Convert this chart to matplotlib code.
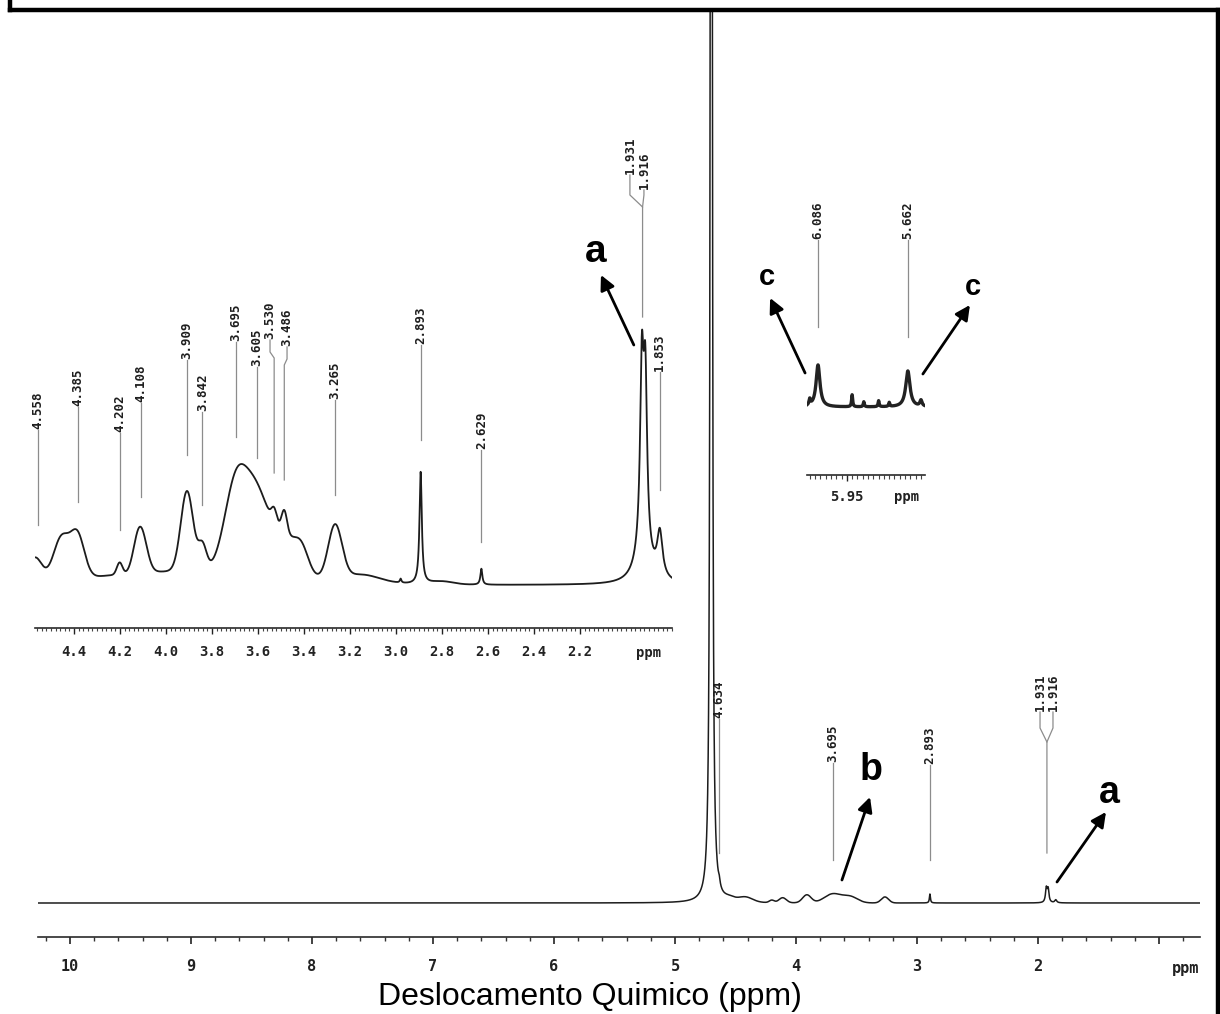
import numpy as np
import matplotlib
matplotlib.use("Agg")
import matplotlib.pyplot as plt
from matplotlib.lines import Line2D
from matplotlib.ticker import MultipleLocator

# ---------------- values ----------------
# full spectrum: sharp lines (ppm, height, half width) + broad humps (ppm, height, sigma)
full_sharp_ppm = [4.700, 4.634, 2.893, 1.931, 1.916, 1.853]
full_sharp_h = [4000, 5, 9, 14, 13, 3]
full_sharp_w = [0.005, 0.008, 0.005, 0.008, 0.008, 0.010]
full_broad_ppm = [4.55, 4.42, 4.20, 4.11, 3.91, 3.695, 3.55, 3.265]
full_broad_h = [3, 5, 2.5, 5, 8, 9, 6, 6]
full_broad_s = [0.04, 0.06, 0.02, 0.03, 0.035, 0.07, 0.06, 0.03]
full_ticks = [10, 9, 8, 7, 6, 5, 4, 3, 2]
full_peak_labels = ["4.634", "3.695", "2.893"]

# expansion 4.6 - 1.8 ppm
exp_sharp_ppm = [2.980, 2.893, 2.629, 1.931, 1.916, 1.925, 1.853]
exp_sharp_h = [4, 112, 16, 175, 160, 35, 45]
exp_sharp_w = [0.004, 0.006, 0.005, 0.009, 0.009, 0.035, 0.014]
exp_broad_ppm = [4.57, 4.455, 4.385, 4.202, 4.13, 4.108, 3.909, 3.842, 3.695,
                 3.605, 3.53, 3.49, 3.486, 3.41, 3.265, 3.15, 2.80, 3.90]
exp_broad_h = [24, 42, 42, 12, 10, 40, 80, 25, 90, 68, 14, 40, 22, 20, 54, 8, 3, 14]
exp_broad_s = [0.03, 0.035, 0.03, 0.012, 0.02, 0.025, 0.027, 0.018, 0.05,
               0.05, 0.012, 0.06, 0.012, 0.03, 0.03, 0.08, 0.05, 0.40]
exp_ticks = [4.4, 4.2, 4.0, 3.8, 3.6, 3.4, 3.2, 3.0, 2.8, 2.6, 2.4, 2.2]
exp_peak_labels = ["4.558", "4.385", "4.202", "4.108", "3.909", "3.842", "3.695",
                   "3.605", "3.530", "3.486", "3.265", "2.893", "2.629", "1.853"]
exp_fork_labels = ["1.931", "1.916"]

# small window around 6 ppm
c_sharp_ppm = [6.086, 5.662, 6.125, 5.925, 5.870, 5.800, 5.750, 5.600]
c_sharp_h = [42, 36, 6, 12, 5, 6, 4, 6]
c_sharp_w = [0.011, 0.012, 0.004, 0.003, 0.003, 0.003, 0.003, 0.006]
c_ticks = [5.95]
c_peak_labels = ["6.086", "5.662"]

W, H = 1220, 1014
fig = plt.figure(figsize=(W / 100, H / 100), dpi=100)
LINE = "#8c8c8c"


def box(x0, y0, x1, y1):
    # axes placed in picture pixels, only the bottom ruler kept
    ax = fig.add_axes([x0 / W, 1 - y1 / H, (x1 - x0) / W, (y1 - y0) / H])
    ax.patch.set_visible(False)
    for s in ["left", "right", "top"]:
        ax.spines[s].set_visible(False)
    ax.spines["bottom"].set_color("#2a2a2a")
    ax.spines["bottom"].set_linewidth(1.2)
    ax.set_yticks([])
    return ax


def lorentz(x, pos, h, w):
    pos, h, w = (np.asarray(v, float)[:, None] for v in (pos, h, w))
    return (h * w ** 2 / ((x - pos) ** 2 + w ** 2)).sum(0)


def gauss(x, pos, h, s):
    pos, h, s = (np.asarray(v, float)[:, None] for v in (pos, h, s))
    return (h * np.exp(-0.5 * ((x - pos) / s) ** 2)).sum(0)


def ruler_labels(ax):
    for lb in ax.get_xticklabels():
        lb.set_fontfamily("DejaVu Sans Mono")
        lb.set_fontweight("bold")


def tag(ax, x, y, txt, size=9):
    ax.text(x, y + 1, txt, rotation=90, ha="center", va="bottom", fontsize=size,
            fontfamily="DejaVu Sans Mono", fontweight="bold", color="#1e1e1e")


def peak_label(ax, ppm, txt, top, bottom, shift=0.0):
    # label may sit a little off the line, joined by a short jog
    if shift:
        xt = ppm + shift
        ax.plot([xt, xt, ppm, ppm], [top, top - 12, top - 18, bottom], color=LINE, lw=0.9)
    else:
        xt = ppm
        ax.plot([ppm, ppm], [bottom, top], color=LINE, lw=0.9)
    tag(ax, xt, top, txt)


def fork_label(ax, xl, xr, xs, txts, tops, knee, join, bottom):
    ax.plot([xl, xl, xs, xs], [tops[0], knee, join, bottom], color=LINE, lw=0.9)
    ax.plot([xr, xr, xs], [tops[1], knee, join], color=LINE, lw=0.9)
    for xx, t, tp in zip([xl, xr], txts, tops):
        tag(ax, xx, tp, t)


def letter(ax, x, y, s, size=27):
    ax.text(x, y, s, fontsize=size, fontweight="bold", fontfamily="Liberation Sans",
            ha="center", va="center", color="k")


def arrow(ax, tail, head):
    ax.annotate("", xy=head, xytext=tail, annotation_clip=False,
                arrowprops=dict(arrowstyle="-|>", color="k", lw=2.0,
                                mutation_scale=22, shrinkA=0, shrinkB=0))


# ---------------- full spectrum ----------------
ax = box(38, 10, 1200, 937)
x = np.linspace(10.264, 0.661, 9000)
y = lorentz(x, full_sharp_ppm, full_sharp_h, full_sharp_w) + \
    gauss(x, full_broad_ppm, full_broad_h, full_broad_s)
ax.plot(x, y, color="#1c1c1c", lw=1.1)
ax.set_xlim(10.264, 0.661)
ax.set_ylim(-34, 893)
ax.set_xticks(full_ticks + [1])
ax.set_xticklabels([str(t) for t in full_ticks] + [""])
ax.xaxis.set_minor_locator(MultipleLocator(0.2))
ax.tick_params(which="major", direction="out", length=5, width=1.2, pad=11,
               labelsize=11, colors="#222222")
ax.tick_params(which="minor", direction="out", length=3, width=1.0, colors="#333333")
ruler_labels(ax)
ax.text(0.78, -66, "ppm", ha="center", va="center", fontsize=11,
        fontfamily="DejaVu Sans Mono", fontweight="bold", color="#222222")

for lbl, top, bot in zip(full_peak_labels, [184, 140, 138], [50, 43, 43]):
    peak_label(ax, float(lbl), lbl, top, bot)
fork_label(ax, 1.983, 1.876, 1.926, ["1.931", "1.916"], [191, 191], 175, 161, 50)

letter(ax, 3.380, 133, "b")
arrow(ax, (3.620, 23), (3.388, 106))
letter(ax, 1.413, 110, "a")
arrow(ax, (1.843, 21), (1.438, 91))

# ---------------- expansion 4.6 - 1.8 ppm ----------------
ax2 = box(35, 100, 672, 628)
x2 = np.linspace(4.57, 1.80, 7000)
y2 = lorentz(x2, exp_sharp_ppm, exp_sharp_h, exp_sharp_w) + \
    gauss(x2, exp_broad_ppm, exp_broad_h, exp_broad_s)
ax2.plot(x2, y2, color="#1c1c1c", lw=1.3)
ax2.set_xlim(4.57, 1.80)
ax2.set_ylim(-43, 485)
ax2.set_xticks(exp_ticks)
ax2.set_xticklabels(["%.1f" % t for t in exp_ticks])
ax2.xaxis.set_minor_locator(MultipleLocator(0.02))
ax2.tick_params(which="major", direction="out", length=4, width=1.0, pad=8,
                labelsize=10, colors="#222222")
ax2.tick_params(which="minor", direction="out", length=2.5, width=0.8, colors="#444444")
ruler_labels(ax2)
ax2.text(1.90, -68, "ppm", ha="center", va="center", fontsize=10,
         fontfamily="DejaVu Sans Mono", fontweight="bold", color="#222222")

exp_tops = [155, 178, 152, 182, 225, 173, 243, 218, 245, 238, 185, 240, 135, 213]
exp_bots = [60, 83, 55, 88, 130, 80, 148, 127, 112, 105, 90, 145, 43, 95]
exp_shift = [0, 0, 0, 0, 0, 0, 0, 0, 0.018, -0.012, 0, 0, 0, 0]
for lbl, top, bot, sh in zip(exp_peak_labels, exp_tops, exp_bots, exp_shift):
    peak_label(ax2, float(lbl), lbl, top, bot, sh)
fork_label(ax2, 1.983, 1.922, 1.928, exp_fork_labels, [410, 395], 390, 378, 268)

letter(ax2, 2.131, 333, "a", size=28)
arrow(ax2, (1.966, 240), (2.109, 310))

# ---------------- window around 6 ppm ----------------
ax3 = box(807, 190, 925, 475)
x3 = np.linspace(6.138, 5.581, 2000)
y3 = lorentz(x3, c_sharp_ppm, c_sharp_h, c_sharp_w)
ax3.plot(x3, y3, color="#222222", lw=2.4)
ax3.set_xlim(6.138, 5.581)
ax3.set_ylim(-68, 217)
ax3.set_xticks(c_ticks)
ax3.set_xticklabels(["%.2f" % t for t in c_ticks])
ax3.xaxis.set_minor_locator(MultipleLocator(0.025))
ax3.tick_params(which="major", direction="out", length=4, width=1.0, pad=7,
                labelsize=10, colors="#222222")
ax3.tick_params(which="minor", direction="out", length=3, width=0.8, colors="#444444")
ruler_labels(ax3)
ax3.text(5.666, -90, "ppm", ha="center", va="center", fontsize=10,
         fontfamily="DejaVu Sans Mono", fontweight="bold", color="#222222")
for lbl, bot in zip(c_peak_labels, [80, 70]):
    peak_label(ax3, float(lbl), lbl, 167, bot)

letter(ax3, 6.327, 130, "c", size=21)
arrow(ax3, (6.147, 34), (6.312, 109))
letter(ax3, 5.355, 120, "c", size=21)
arrow(ax3, (5.591, 33), (5.369, 102))

# ---------------- axis title and frame ----------------
fig.text(590 / W, 1 - 1005 / H, "Deslocamento Quimico (ppm)", fontsize=23,
         fontfamily="Liberation Sans", ha="center", va="baseline", color="k")

for xs, ys in [([9.5, 9.5], [0, 9.5]), ([9.5, 1217.5], [9.5, 9.5]),
               ([1217.5, 1217.5], [9.5, H])]:
    fig.add_artist(Line2D([v / W for v in xs], [1 - v / H for v in ys],
                          transform=fig.transFigure, color="k", lw=3.2))

fig.savefig("out.png", dpi=100)
